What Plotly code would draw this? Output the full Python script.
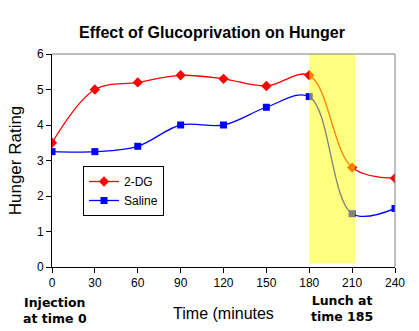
import plotly.graph_objects as go

times = [0, 30, 60, 90, 120, 150, 180, 210, 240]
dg2 = [3.5, 5.0, 5.2, 5.4, 5.3, 5.1, 5.4, 2.8, 2.5]
saline = [3.25, 3.25, 3.4, 4.0, 4.0, 4.5, 4.8, 1.5, 1.65]
lunch_window = [180, 212]

fig = go.Figure()
fig.add_trace(go.Scatter(x=times, y=dg2, name="2-DG", mode="lines+markers",
                         line=dict(color="#FF0000", width=1.3, shape="spline", smoothing=1.0),
                         marker=dict(symbol="diamond", size=8, color="#FF0000")))
fig.add_trace(go.Scatter(x=times, y=saline, name="Saline", mode="lines+markers",
                         line=dict(color="#0000FF", width=1.3, shape="spline", smoothing=1.0),
                         marker=dict(symbol="square", size=7, color="#0000FF")))

fig.add_shape(type="rect", xref="x", yref="y", x0=lunch_window[0], x1=lunch_window[1],
              y0=0.1, y1=6, fillcolor="rgba(255,255,0,0.5)", line=dict(width=0), layer="above")
# top and right frame (gray)
fig.add_shape(type="line", xref="paper", yref="paper", x0=0, x1=1, y0=1, y1=1,
              line=dict(color="#808080", width=1))
fig.add_shape(type="line", xref="paper", yref="paper", x0=1, x1=1, y0=0, y1=1,
              line=dict(color="#808080", width=1))

fig.add_annotation(text="<b>Injection<br>at time 0</b>", xref="paper", yref="paper",
                   x=(55 - 52) / 343, y=-(310 - 267) / 213, showarrow=False,
                   xanchor="center", yanchor="middle",
                   font=dict(family="DejaVu Sans", size=12.5, color="black"), align="center")
fig.add_annotation(text="<b>Lunch at<br>time 185</b>", xref="paper", yref="paper",
                   x=(342 - 52) / 343, y=-(308 - 267) / 213, showarrow=False,
                   xanchor="center", yanchor="middle",
                   font=dict(family="DejaVu Sans", size=12.5, color="black"), align="center")

fig.update_layout(
    width=419, height=331,
    margin=dict(l=52, r=24, t=54, b=64),
    paper_bgcolor="white", plot_bgcolor="white",
    font=dict(family="Liberation Sans, Arial", size=12, color="black"),
    title=dict(text="<b>Effect of Glucoprivation on Hunger</b>", x=212 / 419, xanchor="center",
               y=1 - 32 / 331, yanchor="middle", font=dict(size=16, color="black")),
    xaxis=dict(range=[0, 240], tickvals=times, ticks="outside", ticklen=5, tickcolor="black",
               showline=True, linecolor="black", linewidth=1, showgrid=False, zeroline=False,
               title=dict(text="Time (minutes", font=dict(size=16), standoff=18),
               tickfont=dict(size=12)),
    yaxis=dict(range=[0, 6], dtick=1, ticks="outside", ticklen=5, tickcolor="black",
               showline=True, linecolor="black", linewidth=1, showgrid=False, zeroline=False,
               title=dict(text="Hunger Rating", font=dict(size=17), standoff=10),
               tickfont=dict(size=12)),
    legend=dict(x=(83 - 52) / 343, y=1 - (166 - 54) / 213, xanchor="left", yanchor="top",
                bordercolor="black", borderwidth=1, bgcolor="white",
                font=dict(size=12), tracegroupgap=0, itemwidth=30),
    showlegend=True,
)

fig.write_html("out.html")
